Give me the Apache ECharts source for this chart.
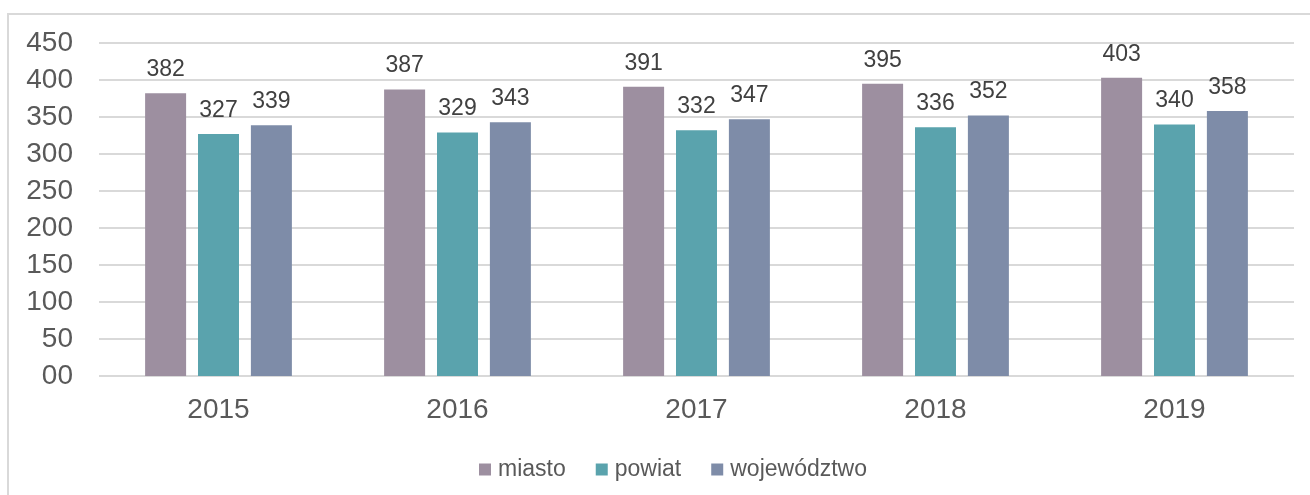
<!DOCTYPE html>
<html>
<head>
<meta charset="utf-8">
<script src="https://cdn.jsdelivr.net/npm/echarts@6/dist/echarts.min.js"></script>
<style>
  html, body { margin: 0; padding: 0; background: #fff; }
  #frame { position: absolute; left: 7px; top: 13px; width: 1310px; height: 500px;
           border-top: 2px solid #d9d9d9; border-left: 2px solid #d9d9d9; }
  #chart { position: absolute; left: 0; top: 0; width: 1310px; height: 495px; }
</style>
</head>
<body>
<div id="frame"></div>
<div id="chart"></div>
<script>
  // lata
  const years = ['2015', '2016', '2017', '2018', '2019']
  // wartości serii
  const miasto = [382, 387, 391, 395, 403]
  const powiat = [327, 329, 332, 336, 340]
  const wojewodztwo = [339, 343, 347, 352, 358]

  const colors = ['#9d8fa0', '#5aa3ad', '#7e8ca8']

  const chart = echarts.init(document.getElementById('chart'))

  const label = {
    show: true,
    position: 'top',
    distance: 12,
    color: '#404040',
    fontSize: 23,
    fontFamily: 'Liberation Sans'
  }

  const mkSeries = (name, data) => ({
    name,
    type: 'bar',
    data,
    barWidth: 41,
    barGap: '29%',
    label
  })

  const option = {
    color: colors,
    textStyle: { fontFamily: 'Liberation Sans' },
    grid: { left: 99, right: 16, top: 43, bottom: 119 },
    legend: {
      left: 474,
      top: 453,
      itemWidth: 12,
      itemHeight: 12,
      itemGap: 30,
      icon: 'rect',
      textStyle: { color: '#595959', fontSize: 23, padding: [0, 0, 0, 2] },
      data: ['miasto', 'powiat', 'województwo']
    },
    xAxis: {
      type: 'category',
      data: years,
      axisLine: { show: false },
      axisTick: { show: false },
      axisLabel: { color: '#595959', fontSize: 28, margin: 20 }
    },
    yAxis: {
      type: 'value',
      min: 0,
      max: 450,
      interval: 50,
      axisLine: { show: false },
      axisTick: { show: false },
      axisLabel: {
        color: '#595959',
        fontSize: 28,
        margin: 26,
        formatter: v => (v === 0 ? '00' : String(v))
      },
      splitLine: { lineStyle: { color: '#d9d9d9', width: 2 } }
    },
    series: [
      mkSeries('miasto', miasto),
      mkSeries('powiat', powiat),
      mkSeries('województwo', wojewodztwo)
    ]
  }

  chart.setOption(option)
</script>
</body>
</html>
